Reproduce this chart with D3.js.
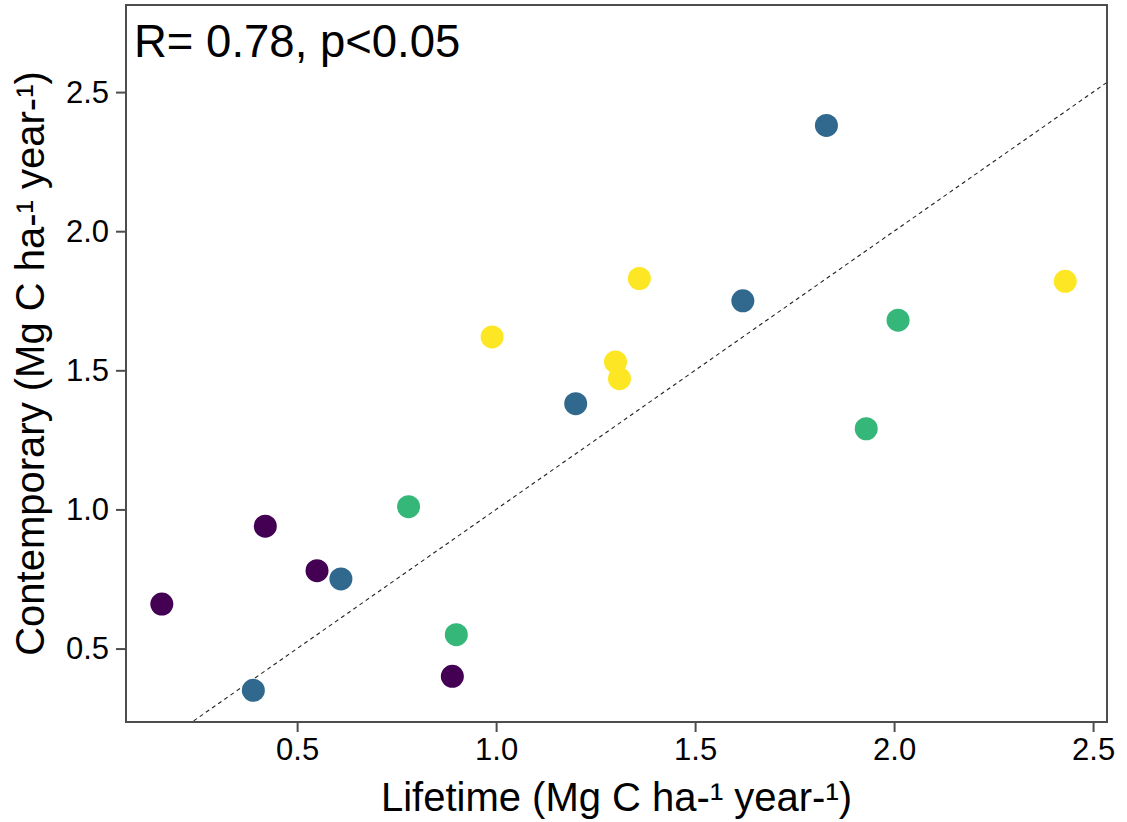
<!DOCTYPE html>
<html>
<head>
<meta charset="utf-8">
<script src="https://cdn.jsdelivr.net/npm/d3@7"></script>
<style>
  body { margin: 0; background: #fff; }
  text { font-family: "Liberation Sans", Arial, sans-serif; }
</style>
</head>
<body>
<div id="chart"></div>
<script>
// Data
const lifetime = [0.16, 0.42, 0.55, 0.89, 0.39, 0.61, 1.20, 1.62, 1.83, 0.78, 0.90, 1.93, 2.01, 0.99, 1.30, 1.31, 1.36, 2.43];
const contemporary = [0.66, 0.94, 0.78, 0.40, 0.35, 0.75, 1.38, 1.75, 2.38, 1.01, 0.55, 1.29, 1.68, 1.62, 1.53, 1.47, 1.83, 1.82];
const group = [1, 1, 1, 1, 2, 2, 2, 2, 2, 3, 3, 3, 3, 4, 4, 4, 4, 4];
const groupColors = ['#440154', '#31688E', '#35B779', '#FDE725'];
const xTicks = [0.5, 1.0, 1.5, 2.0, 2.5];
const yTicks = [0.5, 1.0, 1.5, 2.0, 2.5];
const annotation = 'R= 0.78, p<0.05';
const xTitle = 'Lifetime (Mg C ha-\u00B9 year-\u00B9)';
const yTitle = 'Contemporary (Mg C ha-\u00B9 year-\u00B9)';

let width = 1127,
  height = 822;
const margin = { top: 5, right: 20, bottom: 100, left: 126 };

const svg = d3
  .select('#chart')
  .append('svg')
  .attr('width', width)
  .attr('height', height);

const x = d3.scaleLinear().domain([0.07, 2.535]).range([margin.left, width - margin.right]);
const y = d3.scaleLinear().domain([0.236, 2.813]).range([height - margin.bottom, margin.top]);

const points = lifetime.map((d, i) => ({ x: d, y: contemporary[i], g: group[i] }));

svg.append('clipPath')
  .attr('id', 'panel')
  .append('rect')
  .attr('x', margin.left)
  .attr('y', margin.top)
  .attr('width', width - margin.left - margin.right)
  .attr('height', height - margin.top - margin.bottom);

// 1:1 line
const lo = d3.min([x.domain()[0], y.domain()[0]]),
  hi = d3.max([x.domain()[1], y.domain()[1]]);
svg.append('line')
  .attr('clip-path', 'url(#panel)')
  .attr('x1', x(lo)).attr('y1', y(lo))
  .attr('x2', x(hi)).attr('y2', y(hi))
  .attr('stroke', '#222')
  .attr('stroke-width', 1.1)
  .attr('stroke-dasharray', '4,3.5');

svg.append('g')
  .selectAll('circle')
  .data(points)
  .join('circle')
  .attr('cx', (d) => x(d.x))
  .attr('cy', (d) => y(d.y))
  .attr('r', 11.5)
  .attr('fill', (d) => groupColors[d.g - 1]);

// panel border
svg.append('rect')
  .attr('x', margin.left)
  .attr('y', margin.top)
  .attr('width', width - margin.left - margin.right)
  .attr('height', height - margin.top - margin.bottom)
  .attr('fill', 'none')
  .attr('stroke', '#4d4d4d')
  .attr('stroke-width', 2);

const xAxis = svg.append('g')
  .attr('transform', `translate(0,${height - margin.bottom})`)
  .call(d3.axisBottom(x).tickValues(xTicks).tickFormat(d3.format('.1f')).tickSize(10).tickPadding(6));
const yAxis = svg.append('g')
  .attr('transform', `translate(${margin.left},0)`)
  .call(d3.axisLeft(y).tickValues(yTicks).tickFormat(d3.format('.1f')).tickSize(10).tickPadding(7));

[xAxis, yAxis].forEach((a) => {
  a.select('.domain').remove();
  a.selectAll('line').attr('stroke', '#4d4d4d').attr('stroke-width', 2);
  a.selectAll('text')
    .attr('fill', '#000')
    .style('font-size', '31px')
    .style('font-family', '"Liberation Sans", Arial, sans-serif');
});

svg.append('text')
  .attr('x', (margin.left + width - margin.right) / 2)
  .attr('y', 811)
  .attr('text-anchor', 'middle')
  .style('font-size', '40px')
  .text(xTitle);

svg.append('text')
  .attr('transform', `translate(44,${(margin.top + height - margin.bottom) / 2}) rotate(-90)`)
  .attr('text-anchor', 'middle')
  .style('font-size', '40px')
  .text(yTitle);

svg.append('text')
  .attr('x', 134)
  .attr('y', 57)
  .style('font-size', '45.5px')
  .text(annotation);
</script>
</body>
</html>
